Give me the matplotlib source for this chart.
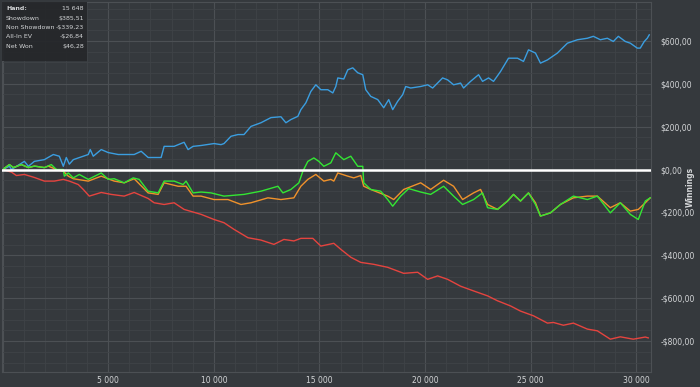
import matplotlib
matplotlib.use("Agg")
import matplotlib.pyplot as plt
from matplotlib.ticker import FuncFormatter, MultipleLocator

# ---- data (hands, winnings $) ----
blue_x = [0, 321, 416, 1030, 1219, 1503, 1975, 2401, 2684, 2873, 3015, 3157, 3346, 4055, 4149, 4291,
          4669, 5000, 5473, 6229, 6560, 6890, 7505, 7647, 8119, 8592, 8781, 9017, 9395, 10010, 10340,
          10482, 10813, 11144, 11428, 11759, 12231, 12704, 13177, 13413, 13649, 13980, 14121, 14358,
          14594, 14830, 15067, 15398, 15634, 15775, 15870, 16154, 16343, 16579, 16815, 17052, 17194,
          17430, 17761, 18044, 18281, 18470, 18706, 18943, 19085, 19321, 19794, 20124, 20361, 20833,
          21070, 21353, 21684, 21826, 22157, 22535, 22724, 23008, 23244, 23575, 23953, 24379, 24663,
          24899, 25230, 25466, 25797, 26269, 26742, 27215, 27687, 27971, 28302, 28633, 28916, 29153,
          29483, 29720, 30051, 30192, 30381, 30523, 30618]
blue_y = [0, 15, 0, 38, 15, 38, 46, 70, 62, 15, 56, 25, 46, 70, 93, 62,
          93, 79, 70, 70, 85, 56, 56, 108, 108, 127, 93, 108, 112, 121, 116,
          121, 155, 163, 163, 201, 218, 242, 246, 218, 233, 248, 279, 311,
          364, 395, 372, 372, 357, 387, 427, 422, 465, 474, 451, 442, 372,
          341, 326, 288, 326, 279, 318, 349, 387, 380, 387, 395, 380, 427,
          418, 395, 403, 380, 411, 442, 411, 427, 411, 457, 519, 519, 504,
          558, 543, 496, 511, 543, 589, 605, 612, 621, 605, 612, 597, 621,
          597, 589, 566, 566, 597, 612, 628]

red_x = [0, 416, 652, 1030, 1503, 1975, 2448, 2873, 3157, 3582, 3819, 4102, 4669, 5142, 5756,
         6229, 6890, 7174, 7647, 8119, 8592, 9395, 10010, 10482, 10955, 11617, 12231, 12846,
         13318, 13791, 14121, 14688, 15067, 15681, 16012, 16485, 16957, 17572, 18233, 18990,
         19652, 20124, 20597, 21070, 21684, 22299, 22961, 23433, 24048, 24521, 25135, 25797,
         26080, 26553, 27026, 27687, 28160, 28774, 29247, 29862, 30429, 30570]
red_y = [0, -12, -28, -23, -37, -54, -54, -46, -54, -70, -93, -124, -107, -116, -124,
         -107, -135, -155, -163, -155, -186, -209, -233, -248, -279, -318, -329, -349,
         -326, -333, -321, -321, -357, -344, -372, -409, -433, -442, -456, -484,
         -479, -512, -496, -512, -544, -566, -589, -612, -636, -660, -682, -716,
         -713, -726, -716, -744, -752, -791, -780, -791, -781, -785]

green_x = [0, 321, 510, 888, 1219, 1503, 1975, 2306, 2543, 2873, 2921, 3110, 3346, 3630, 4055,
           4669, 5000, 5284, 5756, 6182, 6465, 6890, 7363, 7647, 8119, 8545, 8686, 9017, 9395,
           9868, 10482, 11428, 12231, 13035, 13271, 13649, 14027, 14216, 14452, 14736, 14972,
           15208, 15539, 15775, 16154, 16485, 16815, 17052, 17099, 17430, 17902, 18233, 18470,
           18848, 19227, 19794, 20266, 20881, 21353, 21779, 22299, 22724, 22961, 23433, 23906,
           24190, 24521, 24899, 25230, 25466, 25939, 26411, 27026, 27687, 28160, 28774, 29247,
           29720, 30098, 30429, 30665]
green_y = [0, 23, 9, 23, 9, 16, 9, 23, 0, 0, -31, -16, -39, -23, -46,
           -16, -46, -43, -62, -39, -46, -101, -109, -54, -54, -70, -54, -109, -105,
           -109, -124, -116, -101, -78, -109, -93, -62, -8, 38, 54, 38,
           15, 31, 78, 46, 62, 15, 15, -62, -93, -101, -140, -171,
           -124, -89, -105, -116, -78, -124, -163, -140, -109, -178, -186, -147,
           -116, -147, -109, -163, -217, -202, -163, -124, -140, -124, -202, -155,
           -209, -233, -147, -132]

orange_x = [0, 321, 510, 888, 1219, 1503, 1975, 2164, 2543, 2873, 3110, 3346, 4055, 4669, 5284,
            5756, 6229, 6890, 7363, 7647, 8308, 8686, 9017, 9395, 10010, 10671, 11286, 11759,
            12562, 13177, 13791, 14121, 14452, 14830, 15208, 15539, 15681, 15870, 16343, 16626,
            16957, 17099, 17430, 18233, 18517, 18990, 19794, 20266, 20881, 21353, 21779, 22299,
            22630, 22961, 23433, 23906, 24190, 24521, 24899, 25230, 25466, 25939, 26411, 27026,
            27687, 28160, 28774, 29247, 29720, 30098, 30429, 30665]
orange_y = [0, 23, 9, 23, 9, 16, 9, 16, 0, -8, -31, -43, -54, -31, -54,
            -62, -43, -109, -116, -62, -78, -78, -124, -124, -140, -140, -163, -155,
            -132, -140, -132, -78, -46, -23, -54, -46, -54, -16, -31, -39,
            -28, -78, -93, -124, -140, -93, -62, -93, -50, -78, -140, -109,
            -93, -163, -186, -147, -116, -147, -109, -155, -217, -202, -163, -132,
            -124, -124, -178, -155, -194, -186, -155, -132]

info_labels = ["Hand:", "Showdown", "Non Showdown", "All-In EV", "Net Won"]
info_values = ["15 648", "$385,51", "-$339,23", "-$26,84", "$46,28"]

BG = "#35393d"
TXT = "#d4d6d8"

fig = plt.figure(figsize=(7, 3.87), dpi=100, facecolor=BG)
ax = fig.add_axes([2 / 700, 15 / 387, 649 / 700, 370 / 387], facecolor=BG)

ax.plot(blue_x, blue_y, color="#3b9ee0", lw=1.0)
ax.plot(red_x, red_y, color="#e5443f", lw=1.0)
ax.plot(orange_x, orange_y, color="#f0922b", lw=1.0)
ax.plot(green_x, green_y, color="#33e633", lw=1.0)
ax.axhline(0, color="white", lw=1.8, zorder=5)

ax.set_xlim(-30, 30700)
ax.set_ylim(-944, 781)

ax.xaxis.set_major_locator(MultipleLocator(5000))
ax.xaxis.set_minor_locator(MultipleLocator(1000))
ax.yaxis.set_major_locator(MultipleLocator(200))
ax.yaxis.set_minor_locator(MultipleLocator(50))
ax.grid(which="major", color="#4c5054", lw=0.8)
ax.grid(which="minor", color="#3f4347", lw=0.6)
ax.set_axisbelow(True)


def money(v, pos):
    s = "{:,.2f}".format(abs(v)).replace(",", " ").replace(".", ",")
    return ("-$" if v < 0 else "$") + s


def hands(v, pos):
    if v <= 0:
        return ""
    return "{:,.0f}".format(v).replace(",", " ")


ax.yaxis.set_major_formatter(FuncFormatter(money))
ax.xaxis.set_major_formatter(FuncFormatter(hands))
ax.yaxis.tick_right()
ax.tick_params(which="both", length=0, colors=TXT, labelsize=5.5)
ax.tick_params(axis="y", pad=7)
ax.tick_params(axis="x", pad=3)
for sp in ax.spines.values():
    sp.set_color("#4c5054")
    sp.set_linewidth(0.8)

# axis title on the right, placed by hand so it stays inside the picture
fig.text(690 / 700, 1 - 187 / 387, "Winnings", color=TXT, fontsize=5.5, fontweight="bold",
         rotation=90, ha="center", va="center")

# info box in the top-left corner
box = plt.Rectangle((2 / 700, 1 - 61 / 387), 85 / 700, 59 / 387, transform=fig.transFigure,
                    facecolor="#26282b", edgecolor="none", alpha=0.95, zorder=10)
fig.patches.append(box)
for i, (lab, val) in enumerate(zip(info_labels, info_values)):
    yy = 1 - (9 + i * 9.3) / 387
    fig.text(6 / 700, yy, lab, color=TXT, fontsize=4.5, va="center", ha="left",
             fontweight="bold" if i == 0 else "normal", zorder=11)
    fig.text(84 / 700, yy, val, color=TXT, fontsize=4.5, va="center", ha="right", zorder=11)

fig.savefig("out.png", dpi=100, facecolor=BG)
